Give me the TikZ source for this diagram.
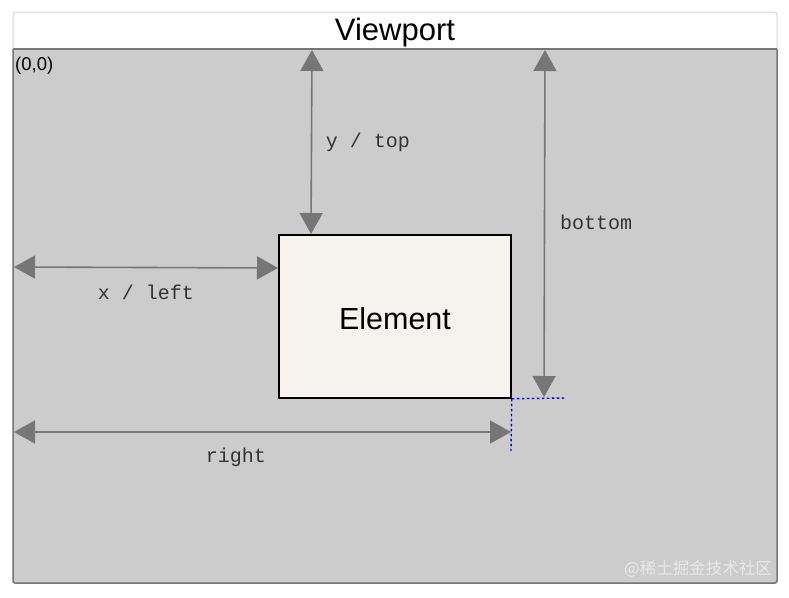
\documentclass[tikz,border=0pt]{standalone}
\usepackage{fontspec}
\setmainfont{Liberation Sans}
\newfontfamily\monofont{Liberation Mono}
\newfontfamily\cjk{Noto Sans CJK SC}
\usetikzlibrary{arrows.meta}
\definecolor{vpgray}{HTML}{CCCCCC}
\definecolor{vpborder}{HTML}{777777}
\definecolor{hdrborder}{HTML}{D4D4D4}
\definecolor{elfill}{HTML}{F6F3EE}
\definecolor{arrgray}{HTML}{767676}
\definecolor{wmark}{HTML}{E8E8E8}
\tikzset{
  dim/.style={draw=arrgray, line width=1.6pt, {Triangle[length=21pt,width=23pt]}-{Triangle[length=21pt,width=23pt]}},
  dimlabel/.style={font=\monofont\fontsize{20}{22}\selectfont, text=black!80},
  guide/.style={draw=blue, line width=1.4pt, dash pattern=on 2.5pt off 2.5pt},
}
\begin{document}
\begin{tikzpicture}[x=1pt,y=-1pt]
\useasboundingbox (0,0) rectangle (789,597);
% frame with header
\draw[hdrborder, fill=white, line width=1pt, rounded corners=3pt] (13,12) rectangle (777,583);
\node[anchor=base, font=\fontsize{31}{34}\selectfont] (title) at (395,40.5) {Viewport};
\draw[vpborder, fill=vpgray, line width=1.5pt, rounded corners=2pt] (13,49) -- (13,583) -- (777,583) -- (777,49);
\draw[vpborder, line width=1.5pt] (13,49) -- (777,49);
\node[anchor=west, font=\fontsize{18.5}{20}\selectfont, inner sep=0pt] (origin) at (15,66) {(0,0)};
% element
\node[draw=black, fill=elfill, line width=1.5pt, minimum width=232pt, minimum height=163pt, inner sep=0pt] (el) at (395,316.5) {};
\node[font=\fontsize{30.5}{33}\selectfont] (eltext) at (395,318.5) {Element};
% coordinates
\coordinate (ytop) at (312,50);
\coordinate (ybot) at (311,234);
\coordinate (btop) at (545,50);
\coordinate (bbot) at (544,397);
\coordinate (xl) at (14,267);
\coordinate (xr) at (278,268);
\coordinate (rl) at (14,432);
\coordinate (rr) at (511,432);
\coordinate (gh) at (566,398);
\coordinate (gv) at (511,451);
% guides
\draw[guide] (el.south east) -- (gh);
\draw[guide] (el.south east) -- (gv);
% dimension arrows
\draw[dim] (ytop) -- (ybot);
\draw[dim] (btop) -- (bbot);
\draw[dim] (xl) -- (xr);
\draw[dim] (rl) -- (rr);
\node[dimlabel] (ylab) at (368,142) {y / top};
\node[dimlabel] (blab) at (596,222) {bottom};
\node[dimlabel] (xlab) at (146,292) {x / left};
\node[dimlabel] (rlab) at (236,457) {right};
% watermark
\node[anchor=east, text=wmark, font=\cjk\fontsize{16.5}{18}\selectfont, inner sep=0pt] (wm) at (772,569) {@稀土掘金技术社区};
\end{tikzpicture}
\end{document}
